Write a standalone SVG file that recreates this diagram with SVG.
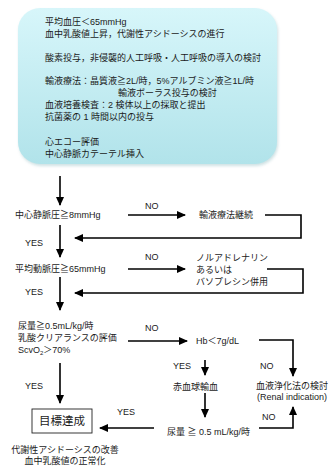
<svg xmlns="http://www.w3.org/2000/svg" width="334" height="473" viewBox="0 0 334 473">
<style>
text{font-family:"Liberation Sans","Noto Sans CJK JP",sans-serif;font-size:9px;fill:#1a1a1a}
.big{font-size:11.5px}
.c{text-anchor:middle}
.ln{fill:none;stroke:#000;stroke-width:1.6}
.ar{marker-end:url(#ah)}
</style>
<defs>
<linearGradient id="bg" x1="0" y1="0" x2="0" y2="1">
<stop offset="0" stop-color="#d7f6fa"/>
<stop offset="1" stop-color="#b1e3ea"/>
</linearGradient>
<filter id="sh" x="-10%" y="-10%" width="120%" height="120%">
<feGaussianBlur stdDeviation="1.5"/>
</filter>
<marker id="ah" markerUnits="userSpaceOnUse" markerWidth="9" markerHeight="8" refX="8" refY="4" orient="auto">
<path d="M0,0 L9,4 L0,8 z" fill="#000"/>
</marker>
</defs>
<rect width="334" height="473" fill="#fff"/>

<g id="start">
<rect x="19" y="10" width="259" height="156" rx="22" fill="#9fc4c9" opacity="0.5" filter="url(#sh)"/>
<rect x="18" y="8" width="259" height="156" rx="22" fill="url(#bg)"/>
<text x="45" y="25">平均血圧＜65mmHg</text>
<text x="45" y="37">血中乳酸値上昇，代謝性アシドーシスの進行</text>
<text x="45" y="61">酸素投与，非侵襲的人工呼吸・人工呼吸の導入の検討</text>
<text x="45" y="84">輸液療法：晶質液≧2L/時，5%アルブミン液≧1L/時</text>
<text x="118" y="96">輸液ボーラス投与の検討</text>
<text x="45" y="108">血液培養検査：2 検体以上の採取と提出</text>
<text x="45" y="120">抗菌薬の 1 時間以内の投与</text>
<text x="45" y="145">心エコー評価</text>
<text x="45" y="157">中心静脈カテーテル挿入</text>
</g>

<g id="cvp"><text x="15" y="218">中心静脈圧≧8mmHg</text></g>
<g id="fluid"><text x="199" y="218">輸液療法継続</text></g>
<g id="map"><text x="15" y="272">平均動脈圧≧65mmHg</text></g>
<g id="vaso">
<text x="196" y="261">ノルアドレナリン</text>
<text x="196" y="273">あるいは</text>
<text x="196" y="285">バソプレシン併用</text>
</g>
<g id="urine1">
<text x="18" y="329">尿量≧0.5mL/kg/時</text>
<text x="18" y="341">乳酸クリアランスの評価</text>
<text x="18" y="353">ScvO<tspan font-size="6" dy="2">2</tspan><tspan dy="-2">＞70%</tspan></text>
</g>
<g id="hb"><text x="196" y="344">Hb＜7g/dL</text></g>
<g id="rbc"><text x="173" y="390">赤血球輸血</text></g>
<g id="renal">
<text x="256" y="389">血液浄化法の検討</text>
<text x="257" y="400">(Renal indication)</text>
</g>
<g id="urine2"><text x="167" y="435">尿量 ≧ 0.5 mL/kg/時</text></g>
<g id="goal">
<rect x="32" y="409" width="60" height="24" fill="#fff" stroke="#222" stroke-width="0.9"/>
<text class="big c" x="62" y="425">目標達成</text>
<text class="c" x="65" y="453">代謝性アシドーシスの改善</text>
<text class="c" x="65" y="464">血中乳酸値の正常化</text>
</g>

<g id="connectors">
<path class="ln ar" d="M60,176 V205"/>
<path class="ln ar" d="M60,225 V257"/>
<path class="ln ar" d="M60,277 V310"/>
<path class="ln ar" d="M60,363 V403"/>
<path class="ln ar" d="M128,215 H185"/>
<path class="ln ar" d="M265,215 H301 V238 H75"/>
<path class="ln ar" d="M128,269 H185"/>
<path class="ln ar" d="M267,269 H303 V293 H75"/>
<path class="ln ar" d="M128,341 H187"/>
<path class="ln ar" d="M259,340 H293 V376"/>
<path class="ln ar" d="M205,360 V375"/>
<path class="ln ar" d="M205,393 V417"/>
<path class="ln ar" d="M154,428 H100"/>
<path class="ln ar" d="M259,428 H293 V407"/>
<text x="145" y="209">NO</text>
<text x="25" y="246">YES</text>
<text x="145" y="260">NO</text>
<text x="25" y="295">YES</text>
<text x="145" y="331">NO</text>
<text x="173" y="369">YES</text>
<text x="260" y="369">NO</text>
<text x="25" y="389">YES</text>
<text x="117" y="415">YES</text>
<text x="262" y="420">NO</text>
</g>
</svg>
